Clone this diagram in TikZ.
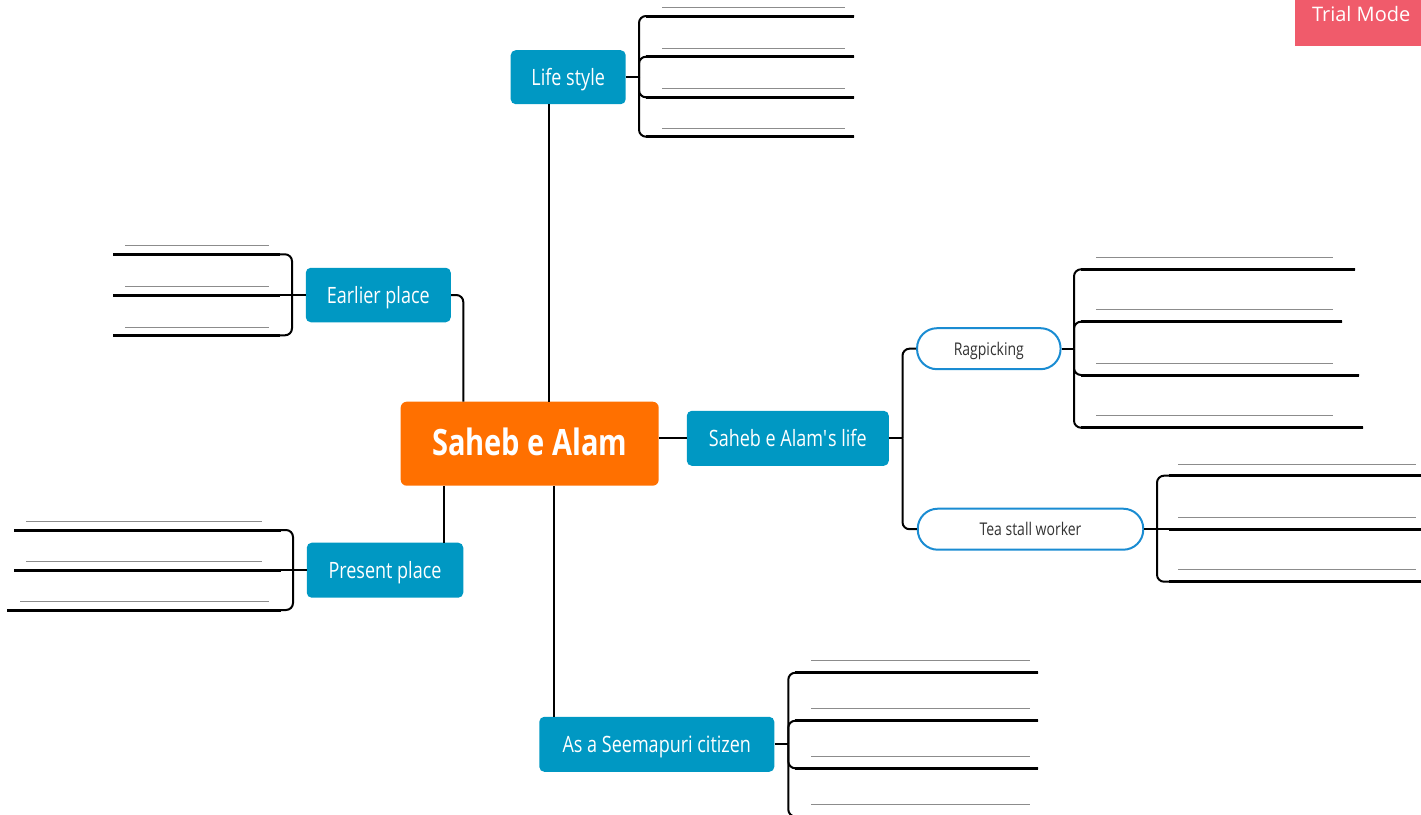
\documentclass[tikz,border=0pt]{standalone}
\usepackage{fontspec}
\setmainfont{Open Sans}[FakeStretch=0.8]
\newfontfamily\badgefont{Open Sans}
\definecolor{topicblue}{HTML}{0098C3}
\definecolor{rootorange}{HTML}{FF7000}
\definecolor{pillblue}{HTML}{1A8CD2}
\definecolor{trialred}{HTML}{F05B6B}
\definecolor{blankgray}{HTML}{8C8C8C}
\definecolor{textgray}{HTML}{333333}
\begin{document}
\begin{tikzpicture}[x=1pt,y=-1pt,
  topic/.style={fill=topicblue, text=white, rounded corners=5pt, inner sep=0pt,
    text height=18pt, text depth=2pt,
    font=\fontsize{22.5}{26}\selectfont},
  root/.style={fill=rootorange, text=white, rounded corners=6pt, inner sep=0pt,
    text height=26pt, text depth=2pt,
    font=\bfseries\fontsize{36.3}{40}\selectfont},
  pill/.style={draw=pillblue, line width=2pt, fill=white, rounded corners=20pt,
    inner sep=0pt, text=textgray, text height=14.6pt, text depth=2pt,
    font=\fontsize{17.5}{20}\selectfont},
  link/.style={line width=2pt, black, rounded corners=7pt},
  leafline/.style={line width=3pt, black},
  blank/.style={blankgray, line width=1pt}
]
\useasboundingbox (0,0) rectangle (1421,814);
\clip (0,0) rectangle (1421,814);

% ---------- topics ----------
\node[root, minimum width=258pt, minimum height=84pt] (center) at (529.7,443.7) {Saheb e Alam};
\node[topic, minimum width=115pt, minimum height=54pt] (life) at (568.2,77.2) {Life style};
\node[topic, minimum width=145pt, minimum height=54.5pt] (early) at (378.3,295) {Earlier place};
\node[topic, minimum width=156.5pt, minimum height=55pt] (present) at (385,570.2) {Present place};
\node[topic, minimum width=202pt, minimum height=55pt] (slife) at (787.8,438.3) {Saheb e Alam\textquotesingle s life};
\node[topic, minimum width=235pt, minimum height=55pt] (seema) at (656.8,744.3) {As a Seemapuri citizen};
\node[pill, minimum width=143.5pt, minimum height=41pt] (rag) at (988.8,348.7) {Ragpicking};
\node[pill, minimum width=225.5pt, minimum height=41pt] (tea) at (1030.5,529.2) {Tea stall worker};

\node[fill=trialred, text=white, anchor=north west, inner xsep=0pt, inner ysep=0pt,
  minimum width=130pt, text height=21pt, text depth=25pt,
  font=\badgefont\fontsize{20}{24}\selectfont] (trial) at (1295,0) {\hspace*{2pt}Trial Mode};

% ---------- links from the central topic ----------
\draw[link] (center.north -| 549.3,0) -- (life.south -| 549.3,0);
\draw[link] (early.east) -| (center.north -| 463.3,0);
\draw[link] (center.south -| 444,0) -- (present.north -| 444,0);
\draw[link] (center.south -| 554,0) -- (seema.north -| 554,0);
\draw[link] (center.east |- slife.west) -- (slife.west);

% ---------- Saheb e Alam's life ----------
\coordinate (slj) at (902.5,438.3);
\draw[link] (slife.east) -- (slj);
\draw[link] (slj) |- (rag.west);
\draw[link] (slj) |- (tea.west);

% ---------- Life style leaves ----------
\coordinate (lsj) at (639,77.2);
\draw[link] (life.east) -- (lsj);
\foreach \i/\y in {1/16,2/56.7,3/97.3,4/136.7} {
  \coordinate (ls\i) at (854,\y);
  \draw[link] (lsj) |- (ls\i);
  \draw[leafline] (lsj |- ls\i) ++(7,0) -- (ls\i);
  \draw[blank] (662,\y-8.5) -- (845,\y-8.5);
}

% ---------- Earlier place leaves ----------
\coordinate (epj) at (292,295);
\coordinate (ep1) at (113,254.3);
\coordinate (ep2) at (113,295);
\coordinate (ep3) at (113,335.3);
\draw[link] (early.west) -- (ep2);
\draw[link] (epj) |- (ep1);
\draw[link] (epj) |- (ep3);
\foreach \p in {ep1,ep2,ep3} \draw[leafline] (epj |- \p) ++(-12,0) -- (\p);
\foreach \y in {245.7,286.7,327} \draw[blank] (125,\y) -- (269,\y);

% ---------- Present place leaves ----------
\coordinate (ppj) at (293,570.2);
\coordinate (pp1) at (14,530);
\coordinate (pp2) at (14,570.2);
\coordinate (pp3) at (7,610);
\draw[link] (present.west) -- (pp2);
\draw[link] (ppj) |- (pp1);
\draw[link] (ppj) |- (pp3);
\foreach \p in {pp1,pp2,pp3} \draw[leafline] (ppj |- \p) ++(-12,0) -- (\p);
\draw[blank] (26,521) -- (262,521);
\draw[blank] (26,561.7) -- (262,561.7);
\draw[blank] (20,601.3) -- (269,601.3);

% ---------- Ragpicking leaves ----------
\coordinate (rpj) at (1074,348.7);
\draw[link] (rag.east) -- (rpj);
\foreach \i/\y/\e in {1/269.3/1355,2/321.7/1342,3/375/1359,4/427.7/1363} {
  \coordinate (rp\i) at (\e,\y);
  \draw[link] (rpj) |- (rp\i);
  \draw[leafline] (rpj |- rp\i) ++(7,0) -- (rp\i);
  \draw[blank] (1096,\y-12) -- (1333,\y-12);
}

% ---------- Tea stall worker leaves ----------
\coordinate (tsj) at (1157,529.2);
\coordinate (ts1) at (1425,475.7);
\coordinate (ts2) at (1425,529.2);
\coordinate (ts3) at (1425,581.7);
\draw[link] (tea.east) -- (ts2);
\draw[link] (tsj) |- (ts1);
\draw[link] (tsj) |- (ts3);
\foreach \p in {ts1,ts2,ts3} \draw[leafline] (tsj |- \p) ++(12,0) -- (\p);
\foreach \y in {464.3,517.7,569.3} \draw[blank] (1178,\y) -- (1416,\y);

% ---------- Seemapuri citizen leaves ----------
\coordinate (scj) at (788.3,744.3);
\draw[link] (seema.east) -- (scj);
\foreach \i/\y in {1/672.7,2/720.7,3/768.3,4/816.5} {
  \coordinate (sc\i) at (1038,\y);
  \draw[link] (scj) |- (sc\i);
  \draw[leafline] (scj |- sc\i) ++(7,0) -- (sc\i);
  \draw[blank] (811,\y-12) -- (1030,\y-12);
}
\end{tikzpicture}
\end{document}
